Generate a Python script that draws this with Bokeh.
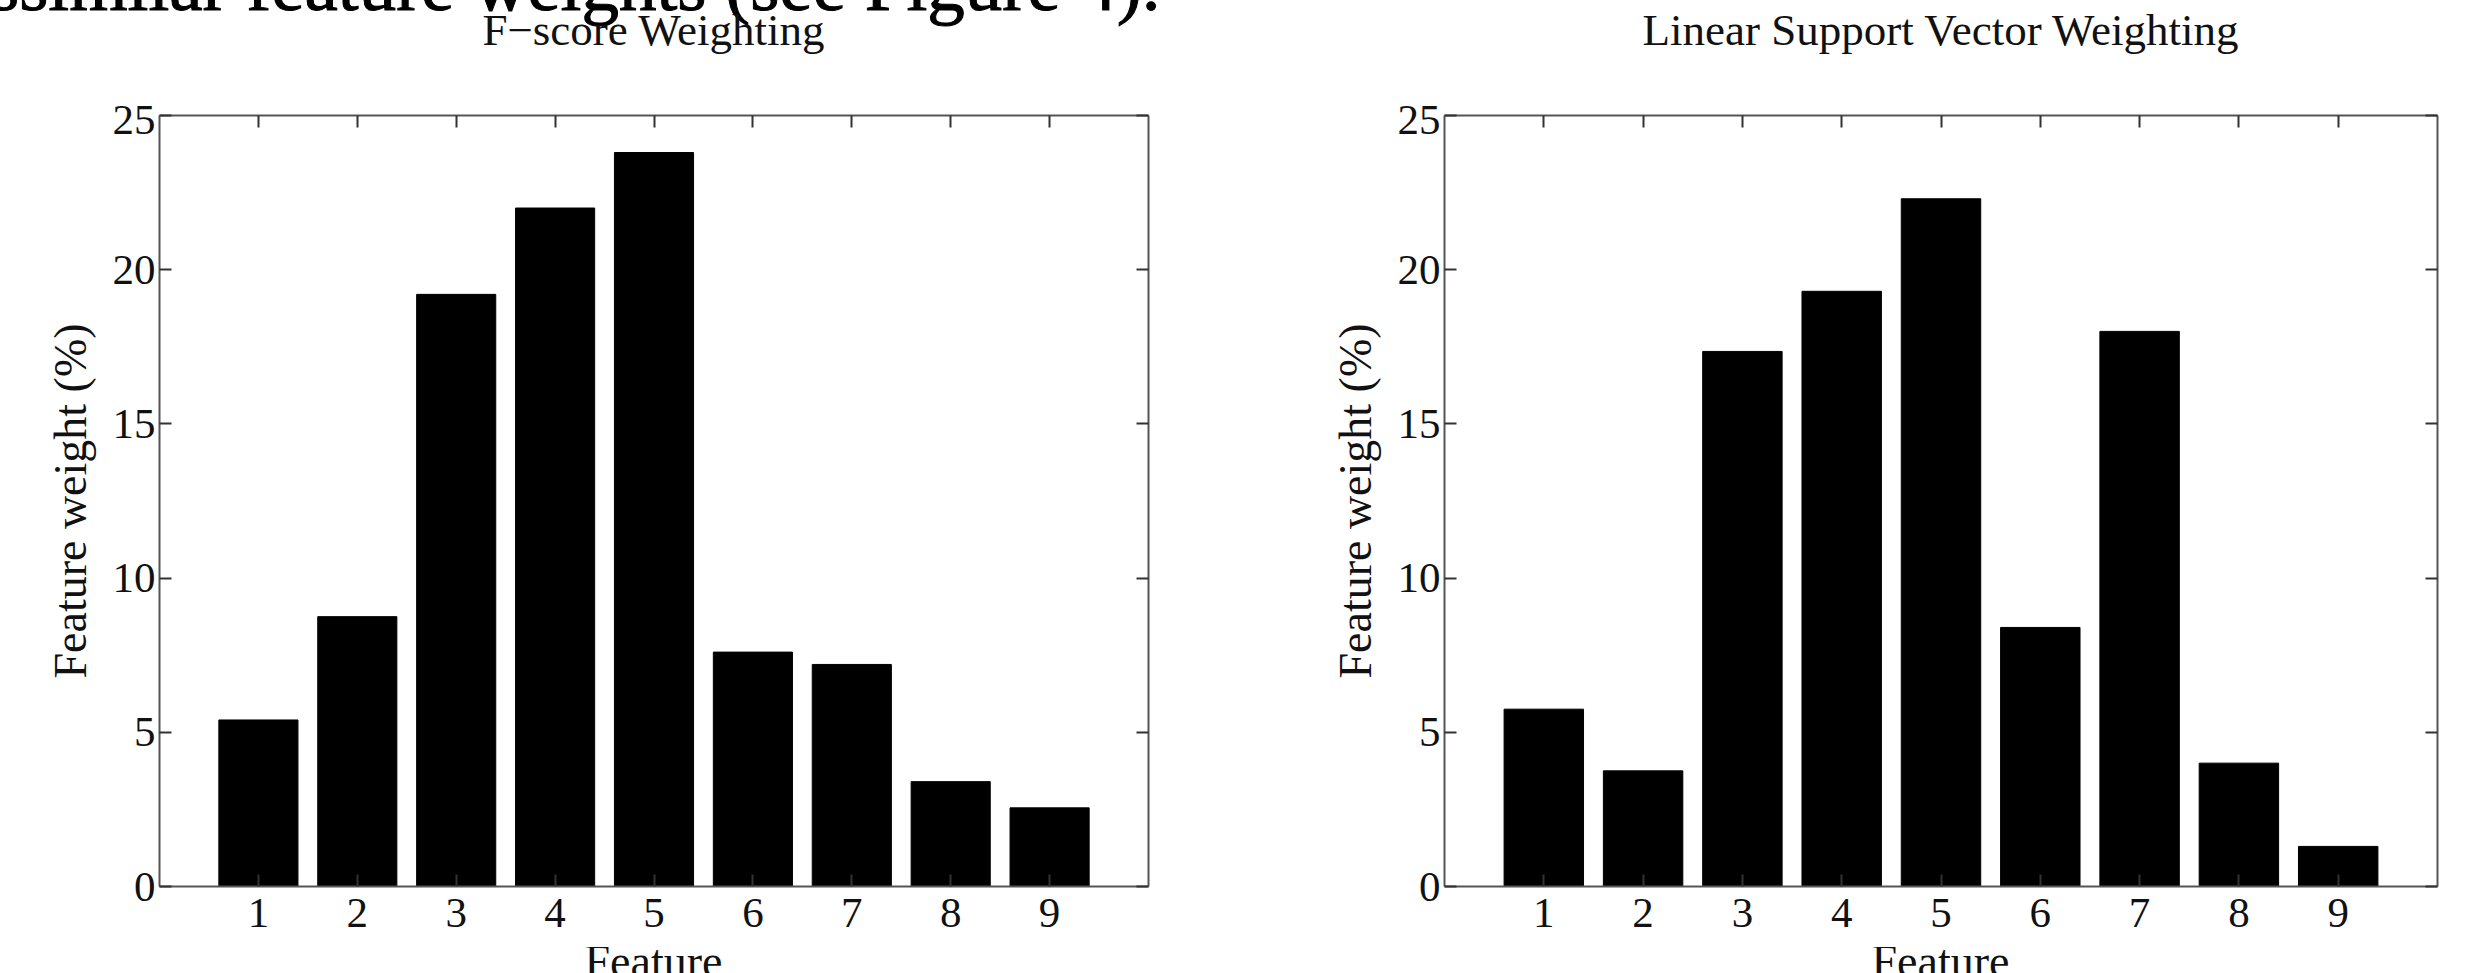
import numpy as np
from bokeh.plotting import figure
from bokeh.models import Range1d, FixedTicker, LinearAxis, Div, CustomLabelingPolicy
from bokeh.layouts import row, column
from bokeh.embed import file_html
from bokeh.resources import INLINE

# ---- data ----
features = [1, 2, 3, 4, 5, 6, 7, 8, 9]
fscore_weights = [5.4, 8.75, 19.2, 22.0, 23.8, 7.6, 7.2, 3.4, 2.55]
svm_weights = [5.75, 3.75, 17.35, 19.3, 22.3, 8.4, 18.0, 4.0, 1.3]
y_ticks = [0, 5, 10, 15, 20, 25]
titles = ["F\u2212score Weighting", "Linear Support Vector Weighting"]
x_label = "Feature"
y_label = "Feature weight (%)"
caption = "ssimilar feature weights (see Figure 4)."

FONT = "Liberation Serif"
AX_COLOR = "#555555"
TXT_COLOR = "#111111"
TOTAL_W = 2475
TOP_DIV_H = 105
BT, FRAME_H, BB = 10, 771, 61
FIG_H = BT + FRAME_H + BB
BOT_DIV_H = 973 - TOP_DIV_H - FIG_H

W1, BL1, BR1 = 1300, 159, 152
W2, BL2, BR2 = TOTAL_W - W1, 144, 38

hide_policy = CustomLabelingPolicy(code="""
try { for (const i of Array.from(indices)) { indices.unset(i) } } catch (e) {}
return indices
""")


def style_axis(ax, show_labels=True):
    ax.major_tick_in = 12
    ax.major_tick_out = 0
    ax.minor_tick_in = 0
    ax.minor_tick_out = 0
    ax.axis_line_color = AX_COLOR
    ax.axis_line_width = 2
    ax.major_tick_line_color = "#333333"
    ax.major_tick_line_width = 2
    ax.major_label_text_font = FONT
    ax.major_label_text_color = TXT_COLOR
    if show_labels:
        ax.major_label_text_font_size = "43px"
    else:
        ax.major_label_text_font_size = "1px"
        ax.major_label_text_color = None
        ax.major_label_standoff = 0
        ax.major_label_policy = hide_policy


def make_plot(vals, width, bl, br):
    p = figure(width=width, height=FIG_H, output_backend="svg", toolbar_location=None,
               x_range=Range1d(0, 10), y_range=Range1d(0, 25),
               min_border_left=bl, min_border_right=br,
               min_border_top=BT, min_border_bottom=BB,
               x_axis_type=None, y_axis_type=None)
    p.outline_line_color = None
    p.background_fill_color = "white"
    p.border_fill_color = "white"
    p.vbar(x=features, top=vals, width=0.8, fill_color="black", line_color="black")

    xt = FixedTicker(ticks=features)
    yt = FixedTicker(ticks=y_ticks)
    bx = LinearAxis(ticker=xt)
    style_axis(bx)
    bx.major_label_standoff = 12
    p.add_layout(bx, "below")
    ly = LinearAxis(ticker=yt, axis_label=y_label)
    style_axis(ly)
    ly.major_label_standoff = 4
    ly.axis_label_text_font = FONT
    ly.axis_label_text_font_size = "46px"
    ly.axis_label_text_font_style = "normal"
    ly.axis_label_text_color = TXT_COLOR
    ly.axis_label_standoff = 14
    p.add_layout(ly, "left")
    tx = LinearAxis(ticker=xt)
    style_axis(tx, False)
    p.add_layout(tx, "above")
    ry = LinearAxis(ticker=yt)
    style_axis(ry, False)
    p.add_layout(ry, "right")
    return p


p1 = make_plot(fscore_weights, W1, BL1, BR1)
p2 = make_plot(svm_weights, W2, BL2, BR2)

# frame centres relative to the layout's left edge
c1 = BL1 + (W1 - BL1 - BR1) / 2
c2 = W1 + BL2 + (W2 - BL2 - BR2) / 2

span = ("position:absolute; white-space:nowrap; line-height:1; "
        "font-family:'Liberation Serif'; color:%s;" % TXT_COLOR)
top_html = (
    '<div style="position:relative; width:%dpx; height:%dpx; overflow:hidden;">' % (TOTAL_W, TOP_DIV_H)
    + '<span style="%s left:-10px; top:-53px; font-size:75px; color:#000; '
      '-webkit-text-stroke:1px #000;">%s</span>' % (span, caption)
    + '<span style="%s left:%.1fpx; top:8px; font-size:45px; transform:translateX(-50%%);">%s</span>'
    % (span, c1, titles[0])
    + '<span style="%s left:%.1fpx; top:8px; font-size:45px; transform:translateX(-50%%);">%s</span>'
    % (span, c2, titles[1])
    + '</div>'
)
bot_html = (
    '<div style="position:relative; width:%dpx; height:%dpx; overflow:hidden;">' % (TOTAL_W, BOT_DIV_H)
    + '<span style="%s left:%.1fpx; top:-8px; font-size:46px; transform:translateX(-50%%);">%s</span>'
    % (span, c1, x_label)
    + '<span style="%s left:%.1fpx; top:-8px; font-size:46px; transform:translateX(-50%%);">%s</span>'
    % (span, c2, x_label)
    + '</div>'
)

top_div = Div(text=top_html, width=TOTAL_W, height=TOP_DIV_H, margin=0)
bot_div = Div(text=bot_html, width=TOTAL_W, height=BOT_DIV_H, margin=0)

layout = column(top_div, row(p1, p2, spacing=0), bot_div, spacing=0)
open("out.html", "w").write(file_html(layout, INLINE))
